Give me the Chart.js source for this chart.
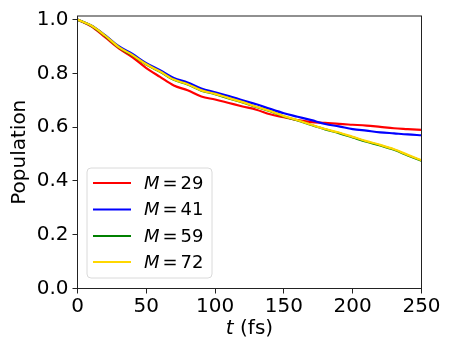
<!DOCTYPE html>
<html>
<head>
<meta charset="utf-8">
<script src="https://cdn.jsdelivr.net/npm/chart.js@4"></script>
<style>
  html, body { margin: 0; padding: 0; background: #fff; }
  #wrap { width: 458px; height: 343px; }
</style>
</head>
<body>
<div id="wrap"><canvas id="chart" width="458" height="343"></canvas></div>
<script>
// time grid (fs) and populations
const times = [0, 10, 20, 30, 40, 50, 60, 70, 80, 90, 100, 110, 120, 130, 140, 150, 160, 170, 180, 190, 200, 210, 220, 230, 240, 250];
const popM29 = [1.0, 0.975, 0.935, 0.893, 0.860, 0.820, 0.787, 0.755, 0.737, 0.714, 0.703, 0.690, 0.677, 0.665, 0.648, 0.637, 0.626, 0.619, 0.616, 0.612, 0.609, 0.606, 0.601, 0.596, 0.593, 0.590];
const popM41 = [1.0, 0.978, 0.942, 0.901, 0.872, 0.838, 0.812, 0.783, 0.766, 0.744, 0.730, 0.716, 0.700, 0.685, 0.668, 0.652, 0.639, 0.626, 0.612, 0.603, 0.593, 0.587, 0.581, 0.577, 0.573, 0.570];
const popM59 = [1.0, 0.977, 0.940, 0.897, 0.867, 0.833, 0.806, 0.776, 0.759, 0.736, 0.723, 0.707, 0.692, 0.675, 0.659, 0.640, 0.625, 0.608, 0.592, 0.578, 0.562, 0.546, 0.532, 0.516, 0.495, 0.475];
const popM72 = [1.0, 0.978, 0.941, 0.898, 0.868, 0.834, 0.807, 0.777, 0.760, 0.737, 0.724, 0.708, 0.693, 0.676, 0.660, 0.641, 0.626, 0.609, 0.593, 0.580, 0.564, 0.548, 0.534, 0.518, 0.497, 0.477];
const seriesNames = ['29', '41', '59', '72'];
const seriesColors = ['#ff0000', '#0000ff', '#008000', '#ffd700'];
const xTicks = [0, 50, 100, 150, 200, 250];
const yTicks = [0, 0.2, 0.4, 0.6, 0.8, 1.0];

const FONT = '"DejaVu Sans", sans-serif';

function points(vals) {
  return times.map((t, i) => ({ x: t, y: vals[i] }));
}

const allSeries = [popM29, popM41, popM59, popM72];
const datasets = allSeries.map((vals, i) => ({
  label: seriesNames[i],
  data: points(vals),
  borderColor: seriesColors[i],
  borderWidth: 2.2,
  pointRadius: 0,
  cubicInterpolationMode: 'monotone',
  order: allSeries.length - i
}));

// frame, legend and axis titles with mixed italic text
const decor = {
  id: 'decor',
  afterDraw(chart) {
    const ctx = chart.ctx;
    const a = chart.chartArea;
    ctx.save();
    ctx.strokeStyle = '#222';
    ctx.lineWidth = 1;
    ctx.strokeRect(a.left, a.top, a.right - a.left, a.bottom - a.top);

    // legend box
    const bx = 87, by = 168, bw = 125, bh = 110, r = 4;
    ctx.beginPath();
    ctx.roundRect(bx, by, bw, bh, r);
    ctx.fillStyle = 'rgba(255,255,255,0.8)';
    ctx.fill();
    ctx.strokeStyle = '#dadada';
    ctx.stroke();
    const rowY = [183, 209.5, 236, 262];
    chart.data.datasets.forEach((ds, i) => {
      const y = rowY[i];
      ctx.beginPath();
      ctx.strokeStyle = ds.borderColor;
      ctx.lineWidth = 2;
      ctx.moveTo(93, y);
      ctx.lineTo(131, y);
      ctx.stroke();
      ctx.fillStyle = '#000';
      ctx.textBaseline = 'middle';
      ctx.textAlign = 'left';
      let x = 144;
      ctx.font = 'italic 18px ' + FONT;
      ctx.fillText('M', x, y + 1);
      x += ctx.measureText('M').width + 3;
      ctx.font = '18px ' + FONT;
      ctx.fillText('=', x, y + 1);
      x += ctx.measureText('=').width + 3;
      ctx.fillText(ds.label, x, y + 1);
    });

    // x title: italic t
    ctx.fillStyle = '#000';
    ctx.textBaseline = 'alphabetic';
    ctx.font = 'italic 20px ' + FONT;
    const tw = ctx.measureText('t').width;
    ctx.font = '20px ' + FONT;
    const rest = ' (fs)';
    const rw = ctx.measureText(rest).width;
    const cx = (a.left + a.right) / 2;
    const x0 = cx - (tw + rw) / 2;
    ctx.font = 'italic 20px ' + FONT;
    ctx.fillText('t', x0, 334);
    ctx.font = '20px ' + FONT;
    ctx.fillText(rest, x0 + tw, 334);

    // y title
    ctx.translate(25, (a.top + a.bottom) / 2);
    ctx.rotate(-Math.PI / 2);
    ctx.textAlign = 'center';
    ctx.fillText('Population', 0, 0);
    ctx.restore();
  }
};

new Chart(document.getElementById('chart'), {
  type: 'line',
  data: { datasets },
  options: {
    responsive: false,
    animation: false,
    layout: { padding: { left: 0, right: 36.5, top: 13, bottom: 0 } },
    plugins: { legend: { display: false }, tooltip: { enabled: false } },
    scales: {
      x: {
        type: 'linear',
        min: 0,
        max: 250,
        afterBuildTicks: s => { s.ticks = xTicks.map(v => ({ value: v })); },
        afterFit: s => { s.height = 54.5; },
        grid: { drawOnChartArea: false, tickLength: 5, color: '#222', tickColor: '#222' },
        border: { color: '#222' },
        ticks: { color: '#000', font: { family: FONT, size: 20 }, padding: 1, maxRotation: 0 }
      },
      y: {
        min: 0,
        max: 1.0135,
        afterBuildTicks: s => { s.ticks = yTicks.map(v => ({ value: v })); },
        afterFit: s => { s.width = 77.5; },
        grid: { drawOnChartArea: false, tickLength: 5, color: '#222', tickColor: '#222' },
        border: { color: '#222' },
        ticks: { color: '#000', font: { family: FONT, size: 20 }, padding: 4, callback: v => v.toFixed(1) }
      }
    }
  },
  plugins: [decor]
});
</script>
</body>
</html>
